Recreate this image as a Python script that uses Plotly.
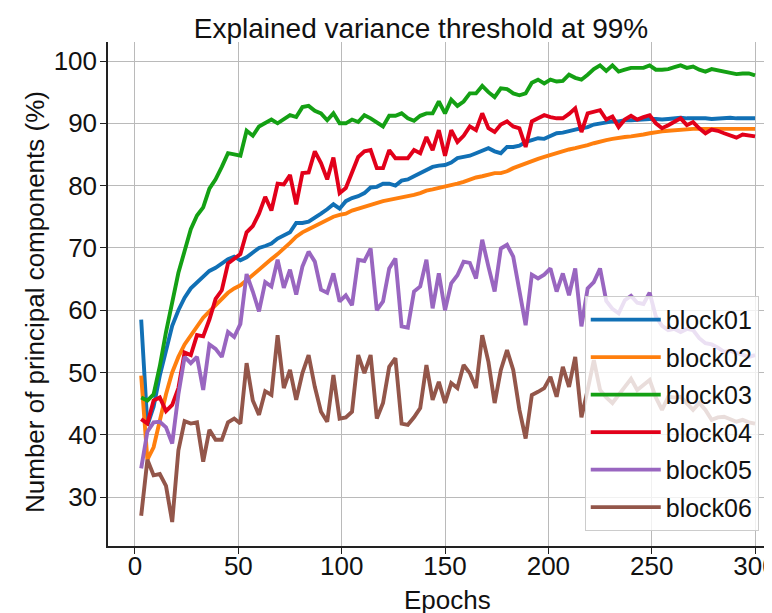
import plotly.graph_objects as go

epochs = list(range(3, 301, 3))

block01 = [58.5, 41.5, 44.5, 49.5, 53.5, 57.5, 60, 62, 63.5, 64.5,
           65.5, 66.3, 66.8, 67.5, 68.2, 68.6, 68, 68.5, 69.2, 70,
           70.3, 70.7, 71.5, 72, 72.5, 74, 74, 74.2, 74.8, 75.5,
           76.2, 77, 76.3, 77.5, 78, 78.3, 78.8, 79.7, 79.8, 80.3,
           80.3, 80, 80.8, 81, 81.5, 82, 82.5, 83, 83.2, 83.3,
           83.7, 84.4, 84.6, 84.8, 85.2, 85.6, 86, 85.5, 85.2, 86.2,
           86.2, 86.4, 87, 87.3, 87.6, 87.5, 88, 88.4, 88.5, 88.8,
           89, 89.2, 89.4, 89.8, 90, 90.2, 90.3, 90.3, 90.5, 90.5,
           90.6, 90.6, 90.7, 90.7, 90.6, 90.7, 90.8, 90.9, 90.8, 90.8,
           90.9, 90.8, 90.7, 90.8, 90.8, 90.9, 90.8, 90.8, 90.8, 90.8]

block02 = [49.5, 36, 38, 42.5, 46.5, 50, 52.5, 54.5, 56, 57.5,
           58.8, 59.8, 60.8, 61.8, 62.8, 63.5, 64, 64.8, 65.7, 66.5,
           67.5, 68.2, 69, 69.8, 70.8, 71.8, 72.5, 73, 73.5, 74,
           74.5, 75, 75.3, 75.5, 76, 76.3, 76.6, 77, 77.2, 77.5,
           77.7, 77.9, 78, 78.2, 78.5, 78.8, 79.2, 79.4, 79.6, 79.8,
           80.1, 80.3, 80.6, 81, 81.3, 81.5, 81.7, 82, 82, 82.3,
           82.8, 83.2, 83.5, 84, 84.3, 84.6, 84.9, 85.3, 85.6, 85.8,
           86, 86.2, 86.5, 86.8, 87.1, 87.3, 87.5, 87.7, 87.8, 87.9,
           88, 88.2, 88.4, 88.6, 88.7, 88.8, 88.9, 89, 89, 89.1,
           89.1, 89.1, 89.1, 89.1, 89.1, 89.1, 89.1, 89.1, 89.1, 89.1]

block03 = [46, 45.5, 46.5, 51, 56.5, 61.5, 66, 69.5, 73, 75.2,
           76.5, 79.5, 81, 83, 85.2, 85, 84.8, 88.8, 88, 89.5,
           90, 90.6, 90, 90.6, 91.3, 91, 92.6, 92.8, 92, 91.6,
           90.5, 91.6, 90, 90, 90.6, 90.2, 91.3, 90.8, 90.2, 89.5,
           91.2, 91.2, 91.6, 90.8, 90.4, 91.2, 91.6, 91.6, 93.5, 91.6,
           93.8, 92.8, 93.5, 94.8, 94.8, 96, 95, 94.2, 95.6, 95.5,
           94.8, 94.5, 94.8, 96.5, 97, 96.4, 97, 96.7, 96.8, 97.8,
           97.3, 97, 97.8, 98.7, 99.3, 98.4, 99.3, 98.3, 98.6, 98.9,
           98.9, 98.9, 99.3, 98.6, 98.6, 98.7, 99, 99.3, 98.9, 99.1,
           98.6, 98.3, 98.7, 98.5, 98.3, 98.1, 97.9, 98, 98, 97.7]

block04 = [42.5, 41.8, 45.5, 46, 43.8, 44.8, 47.5, 53.2, 52.8, 56,
           55.8, 58.5, 61.8, 63.2, 67.5, 68.3, 69, 72.5, 73.5, 75.5,
           78.2, 76, 80.3, 80.2, 81.7, 77, 82, 82.1, 85.5, 83.6,
           81, 84.5, 78.8, 79.6, 82, 84.6, 85.5, 85.7, 82.8, 82.8,
           85.7, 84.4, 84.4, 84.4, 85.7, 85.2, 87.8, 85.7, 88.9, 84.8,
           88.9, 87, 88, 89.5, 88.9, 91.6, 89.2, 88.6, 89.8, 90.3,
           89.5, 89.2, 86.2, 90.3, 90.8, 91.3, 91, 90.8, 90.8, 91.5,
           92.4, 88.6, 91.6, 91.8, 92.1, 90.6, 91.1, 89.4, 90.6, 91.2,
           90.6, 91, 91.3, 90, 89.2, 89.7, 90.2, 90.8, 89.7, 90.2,
           89.2, 88.4, 89, 88.8, 88.4, 88, 87.7, 88.2, 88.1, 87.9]

block05 = [34.6, 40.5, 42, 42.1, 41.2, 38.6, 46.5, 52.5, 51.5, 52.5,
           47.2, 54.5, 53.8, 52.5, 56.5, 55.7, 57.8, 65.8, 63, 59.8,
           64.5, 63.8, 68.1, 63.6, 66.5, 62.5, 67, 69.4, 67.8, 63.3,
           62.8, 65.9, 61.4, 62.4, 60.8, 68.1, 67.9, 69.9, 60, 61.4,
           66.7, 68.3, 57.4, 57.2, 63, 63.8, 68.1, 60.3, 65.9, 60,
           64.3, 65.6, 67.8, 67.6, 65.1, 71.3, 67, 63, 69.9, 70.5,
           68.6, 63.2, 57.6, 65.7, 65.1, 65.7, 66.7, 63, 65.9, 62.4,
           66.7, 57.4, 63.5, 64.5, 66.7, 61.5, 60.2, 59.5, 61.6, 62.3,
           61.2, 61, 62.8, 59, 57.5, 56.8, 57, 56.5, 57, 56.8,
           55.5, 54.7, 54.5, 54, 53.3, 53.5, 53.2, 52.8, 52.5, 52.8]

block06 = [27, 36, 33.5, 33.7, 31.8, 26, 37.5, 42.2, 41.8, 42,
           35.7, 40.8, 39.2, 39.2, 42, 42.6, 41.8, 51.5, 45.5, 43.2,
           47, 46.4, 56, 47.5, 50.4, 45.6, 49.9, 52.8, 47.7, 43.7,
           42.1, 49.6, 42.6, 42.8, 43.7, 52.8, 49.9, 52.8, 42.6, 45.1,
           50.9, 52.3, 41.8, 41.6, 42.8, 44.3, 51.2, 45.6, 48.5, 45.1,
           48.3, 47.5, 51.2, 49.9, 47.5, 56, 51.7, 45.1, 50.4, 53.6,
           50.4, 44, 39.4, 46.4, 46.9, 47.5, 49.3, 46.1, 50.9, 47.7,
           52.5, 42.8, 47.2, 52, 47.2, 46, 45.1, 46.5, 47.7, 49,
           47.2, 48, 48.8, 46, 44, 46.1, 46, 46.1, 45, 44,
           45.1, 44, 42.4, 42.8, 42.9, 42.5, 42.1, 42.4, 42, 41.8]

names = ["block01", "block02", "block03", "block04", "block05", "block06"]
series = [block01, block02, block03, block04, block05, block06]
colors = ["#1170b5", "#ff7f0e", "#14a014", "#e2001a", "#9966c0", "#93564a"]

x_ticks = [0, 50, 100, 150, 200, 250, 300]
y_ticks = [30, 40, 50, 60, 70, 80, 90, 100]

FONT = "Liberation Sans, Arial, sans-serif"
INK = "#111111"

# the page places the figure 8px from the top-left corner of the window
W, H = 764, 605

fig = go.Figure()
for name, ys, c in zip(names, series, colors):
    fig.add_trace(go.Scatter(x=epochs, y=ys, mode="lines", name=name,
                             legendgroup=name,
                             line=dict(color=c, width=3.9)))

axis_common = dict(showline=True, linecolor="#222222", linewidth=1.5,
                   ticks="outside", ticklen=6, tickwidth=1.3, tickcolor="#222222",
                   showgrid=True, gridcolor="#bababa", gridwidth=1.3,
                   zeroline=False, automargin=False, ticklabeloverflow="allow",
                   tickfont=dict(size=26, color=INK, family=FONT))

fig.update_layout(
    width=W, height=H,
    margin=dict(l=100, r=0, t=34, b=67),
    paper_bgcolor="white", plot_bgcolor="white",
    font=dict(family=FONT, color=INK),
    title=dict(text="Explained variance threshold at 99%", x=413 / W, xanchor="center",
               xref="container", y=1 - 10 / H, yanchor="top",
               font=dict(size=28, family=FONT, color=INK)),
    xaxis=dict(range=[-13.06, 308.2], tickvals=x_ticks, ticklabelstandoff=-10,
               **axis_common),
    yaxis=dict(range=[22.15, 103.05], tickvals=y_ticks, ticklabelstandoff=-2,
               **axis_common),
    legend=dict(x=0.718, y=0.03, xanchor="left", yanchor="bottom",
                bgcolor="rgba(255,255,255,0.8)", bordercolor="#cccccc", borderwidth=1,
                font=dict(size=25, family=FONT, color=INK),
                tracegroupgap=2, itemwidth=70,
                entrywidth=120, entrywidthmode="pixels"),
    showlegend=True,
    annotations=[
        dict(text="Epochs", xref="paper", yref="paper", x=(447 - 108) / 664,
             y=(546 - 600) / 504, xanchor="center", yanchor="middle", showarrow=False,
             font=dict(size=26, family=FONT, color=INK)),
        dict(text="Number of principal components (%)", xref="paper", yref="paper",
             x=(35 - 108) / 664, y=(546 - 302) / 504, xanchor="center", yanchor="middle",
             textangle=-90, showarrow=False, font=dict(size=26, family=FONT, color=INK)),
    ],
)

fig.write_html("out.html")
